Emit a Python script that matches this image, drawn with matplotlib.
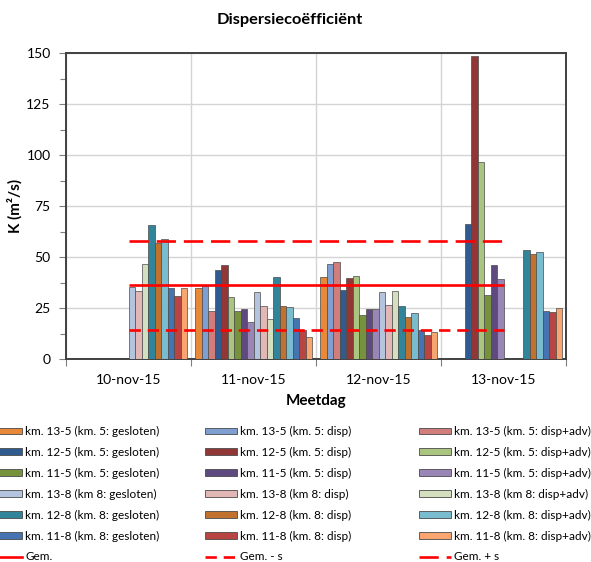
import numpy as np
import matplotlib
matplotlib.use("Agg")
import matplotlib.pyplot as plt
from matplotlib.patches import Patch
from matplotlib.lines import Line2D
from matplotlib.ticker import MultipleLocator

plt.rcParams['font.family'] = ['Lato', 'DejaVu Sans']

# Measurement days
days = ["10-nov-15", "11-nov-15", "12-nov-15", "13-nov-15"]

# Dispersion coefficients K (m2/s) per location / method, one value per day
labels = [
    "km. 13-5 (km. 5: gesloten)", "km. 13-5 (km. 5: disp)", "km. 13-5 (km. 5: disp+adv)",
    "km. 12-5 (km. 5: gesloten)", "km. 12-5 (km. 5: disp)", "km. 12-5 (km. 5: disp+adv)",
    "km. 11-5 (km. 5: gesloten)", "km. 11-5 (km. 5: disp)", "km. 11-5 (km. 5: disp+adv)",
    "km. 13-8 (km 8: gesloten)", "km. 13-8 (km 8: disp)", "km. 13-8 (km 8: disp+adv)",
    "km. 12-8 (km. 8: gesloten)", "km. 12-8 (km. 8: disp)", "km. 12-8 (km. 8: disp+adv)",
    "km. 11-8 (km. 8: gesloten)", "km. 11-8 (km. 8: disp)", "km. 11-8 (km. 8: disp+adv)",
]
nan = np.nan
k13_5_gesloten = [nan, 35.0, 40.0, nan]
k13_5_disp     = [nan, 35.8, 46.6, nan]
k13_5_dispadv  = [nan, 23.5, 47.4, nan]
k12_5_gesloten = [nan, 43.8, 33.8, 66.3]
k12_5_disp     = [nan, 45.9, 39.7, 148.5]
k12_5_dispadv  = [nan, 30.2, 40.7, 96.4]
k11_5_gesloten = [nan, 23.5, 21.4, 31.2]
k11_5_disp     = [nan, 24.3, 24.3, 45.9]
k11_5_dispadv  = [nan, 18.0, 24.3, 39.4]
k13_8_gesloten = [35.5, 32.8, 32.8, nan]
k13_8_disp     = [33.3, 25.8, 26.3, nan]
k13_8_dispadv  = [46.6, 19.4, 33.2, nan]
k12_8_gesloten = [65.5, 40.0, 25.8, 53.3]
k12_8_disp     = [56.7, 25.8, 20.6, 51.5]
k12_8_dispadv  = [58.7, 25.5, 22.4, 52.5]
k11_8_gesloten = [34.6, 20.3, 14.2, 23.4]
k11_8_disp     = [31.0, 14.2, 11.8, 22.9]
k11_8_dispadv  = [35.0, 10.9, 13.2, 25.0]

series = [
    k13_5_gesloten, k13_5_disp, k13_5_dispadv,
    k12_5_gesloten, k12_5_disp, k12_5_dispadv,
    k11_5_gesloten, k11_5_disp, k11_5_dispadv,
    k13_8_gesloten, k13_8_disp, k13_8_dispadv,
    k12_8_gesloten, k12_8_disp, k12_8_dispadv,
    k11_8_gesloten, k11_8_disp, k11_8_dispadv,
]

# Mean and mean +/- standard deviation
gem = [36.4, 36.4, 36.4, 36.4]
gem_min_s = [14.4, 14.4, 14.4, 14.4]
gem_plus_s = [58.0, 58.0, 58.0, 58.0]

colors = [
    "#E8893A", "#7F9FD0", "#D07D7B",
    "#2F5B8E", "#913837", "#AAC57F",
    "#76923C", "#5F4A80", "#9A86B6",
    "#B4C4DF", "#E2B8B7", "#D3DFBE",
    "#32849A", "#C2722F", "#79BCD0",
    "#4673B1", "#B84542", "#F9A570",
]

W, H = 591, 562
fig = plt.figure(figsize=(W / 100, H / 100), dpi=100)
ax = fig.add_axes([66 / W, 1 - 359 / H, 500 / W, 306 / H])

x = np.arange(len(days))
group_w = 0.936
bw = group_w / len(series)
for i, (vals, c, lab) in enumerate(zip(series, colors, labels)):
    pos = x - group_w / 2 + bw * (i + 0.5)
    ax.bar(pos, vals, width=bw, color=c, edgecolor="#4a4a4a", linewidth=0.5,
           label=lab, zorder=3)

ax.plot(x, gem, color="#FF0000", lw=1.9, zorder=4, solid_capstyle="butt")
ax.plot(x, gem_min_s, color="#FF0000", lw=1.9, dashes=(4.3, 2.6), zorder=4)
ax.plot(x, gem_plus_s, color="#FF0000", lw=1.9, dashes=(7.3, 3.0), zorder=4)

ax.set_xlim(-0.5, len(days) - 0.5)
ax.set_ylim(0, 150)
ax.yaxis.set_major_locator(MultipleLocator(25))
ax.yaxis.set_minor_locator(MultipleLocator(12.5))
ax.set_xticks(np.arange(-0.5, len(days), 1.0))
ax.set_xticklabels([])
ax.set_xticks(x, minor=True)
ax.set_xticklabels(days, minor=True)
ax.tick_params(axis="x", which="minor", length=0, pad=11, labelsize=10)
ax.tick_params(axis="x", which="major", direction="out", length=5, color="#7f7f7f", width=0.8)
ax.tick_params(axis="y", which="major", direction="out", length=5, color="#7f7f7f", width=0.8,
               labelsize=10, pad=6)
ax.tick_params(axis="y", which="minor", direction="out", length=4, color="#7f7f7f", width=0.8)
ax.grid(True, which="major", axis="both", color="#D4D4D4", lw=1.0, zorder=0)
ax.set_axisbelow(True)
for s in ax.spines.values():
    s.set_color("#404040")
    s.set_linewidth(1.4)

fig.text(290 / W, 1 - 20 / H, "Dispersiecoëfficiënt", ha="center", va="center",
         fontsize=11.8, fontweight="bold")
fig.text(15 / W, 1 - 206 / H, "K (m²/s)", ha="center", va="center", rotation=90,
         fontsize=11, fontweight="bold")
fig.text(316 / W, 1 - 401 / H, "Meetdag", ha="center", va="center",
         fontsize=11, fontweight="bold")

# Legend: three columns, filled row by row
handles = [Patch(facecolor=c, edgecolor="#4a4a4a", linewidth=0.6) for c in colors]
handles += [
    Line2D([], [], color="#FF0000", lw=1.9),
    Line2D([], [], color="#FF0000", lw=1.9, dashes=(4.3, 2.6)),
    Line2D([], [], color="#FF0000", lw=1.9, dashes=(7.3, 3.0)),
]
all_labels = labels + ["Gem.", "Gem. - s", "Gem. + s"]
col_x = [-10, 205, 419]
for col in range(3):
    hs = handles[col::3]
    ls = all_labels[col::3]
    fig.legend(hs, ls, loc="upper left", bbox_to_anchor=(col_x[col] / W, 1 - 426 / H),
               frameon=False, fontsize=8.45, handlelength=2.72, handleheight=0.5,
               handletextpad=0.3, labelspacing=0.84, borderpad=0, borderaxespad=0)

fig.savefig("out.png", dpi=100)
